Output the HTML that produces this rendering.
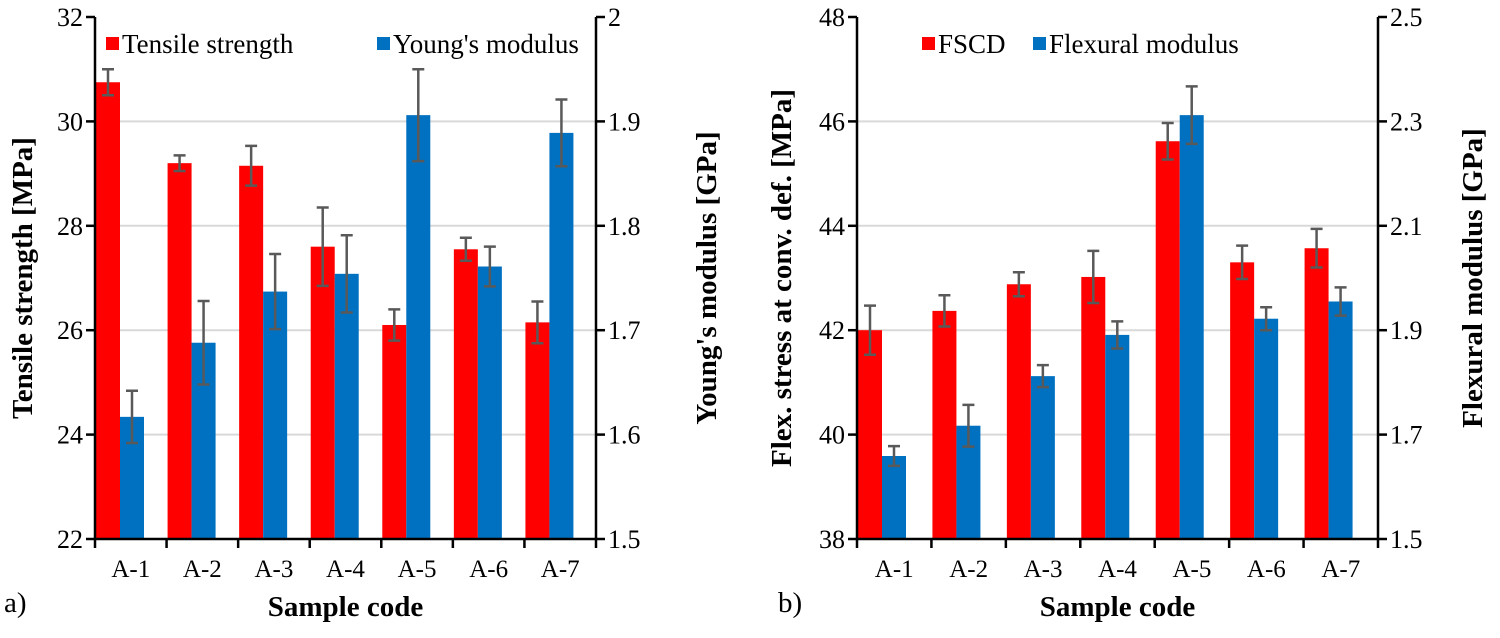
<!DOCTYPE html>
<html><head><meta charset="utf-8"><style>
body{margin:0;background:#fff;width:1500px;height:633px;overflow:hidden}
svg, svg text{font-family:"Liberation Serif","Noto Serif CJK SC","DejaVu Serif",serif}
</style></head><body>
<svg id="c" width="1500" height="633"></svg>
<script>
const categories=["A-1","A-2","A-3","A-4","A-5","A-6","A-7"];
const tensile=[30.75,29.2,29.15,27.6,26.1,27.55,26.15];
const tensileErr=[0.25,0.15,0.38,0.75,0.3,0.22,0.4];
const young=[1.617,1.688,1.737,1.754,1.906,1.761,1.889];
const youngErr=[0.025,0.04,0.036,0.037,0.044,0.019,0.032];
const fscd=[42.0,42.37,42.88,43.02,45.62,43.3,43.57];
const fscdErr=[0.47,0.3,0.23,0.5,0.35,0.32,0.37];
const flexMod=[1.659,1.717,1.812,1.891,2.312,1.922,1.955];
const flexModErr=[0.019,0.04,0.021,0.026,0.055,0.022,0.027];
const leftTicksA=["22","24","26","28","30","32"];
const rightTicksA=["1.5","1.6","1.7","1.8","1.9","2"];
const leftTicksB=["38","40","42","44","46","48"];
const rightTicksB=["1.5","1.7","1.9","2.1","2.3","2.5"];

const svg=document.getElementById('c');
const NS='http://www.w3.org/2000/svg';
function el(t,a,p){const e=document.createElementNS(NS,t);for(const k in a)e.setAttribute(k,a[k]);(p||svg).appendChild(e);return e;}

function chart(o){
  const g=el('g',{});
  
  
  const x0=o.x0,x1=o.x1,top=17,bot=539;
  const yL=v=>bot-(v-o.lmin)/(o.lmax-o.lmin)*(bot-top);
  const yR=v=>bot-(v-o.rmin)/(o.rmax-o.rmin)*(bot-top);
  const cw=(x1-x0)/categories.length;
  o.lt.forEach((t,i)=>{const y=yL(+t);
    if(i>0&&i<o.lt.length-1){const l=el('line',{x1:x0,x2:x1,y1:y,y2:y,stroke:'#d9d9d9','stroke-width':2},g);}
    el('line',{x1:x0-9,x2:x0,y1:y,y2:y,stroke:'#000','stroke-width':2.5},g);
    const tx=el('text',{x:x0-12,y:y+9,'text-anchor':'end','font-size':26},g);tx.textContent=t;
    
  });
  o.rt.forEach((t,i)=>{const y=yR(+t);
    el('line',{x1:x1,x2:x1+9,y1:y,y2:y,stroke:'#000','stroke-width':2.5},g);
    const tx=el('text',{x:x1+12,y:y+9,'font-size':26},g);tx.textContent=t;
    
  });
  function bar(x,y,err,yf,color,nm){
    const b=el('rect',{x:x,y:yf(y),width:24,height:bot-yf(y),fill:color},g);
    
    const cx=x+12,ya=yf(y+err),yb=yf(y-err);
    const eb=el('path',{d:`M${cx},${ya}V${yb}M${cx-6},${ya}H${cx+6}M${cx-6},${yb}H${cx+6}`,stroke:'#595959','stroke-width':2.5,fill:'none'},g);
    
  }
  categories.forEach((c,i)=>{
    const cx0=x0+i*cw;
    bar(cx0+1,o.a[i],o.ae[i],yL,'#ff0000','bar-'+o.an+'-'+c);
    bar(cx0+25,o.b[i],o.be[i],yR,'#0070c0','bar-'+o.bn+'-'+c);
    el('line',{x1:cx0,x2:cx0,y1:bot,y2:bot+9,stroke:'#000','stroke-width':2.5},g);
    const tx=el('text',{x:cx0+cw/2,y:bot+38,'text-anchor':'middle','font-size':25},g);tx.textContent=c;
    
  });
  el('line',{x1:x1,x2:x1,y1:bot,y2:bot+9,stroke:'#000','stroke-width':2.5},g);
  el('path',{d:`M${x0},${top}V${bot}H${x1}V${top}`,stroke:'#000','stroke-width':2.5,fill:'none'},g);
  o.leg.forEach(L=>{
    const r=el('rect',{x:L.x,y:37,width:13,height:13,fill:L.c},g);
    const t=el('text',{x:L.x+16,y:53,'font-size':27},g);t.textContent=L.t;
  });
  const xt=el('text',{x:(x0+x1)/2,y:616,'text-anchor':'middle','font-size':29,'font-weight':'bold'},g);xt.textContent='Sample code';
  
  const p=el('text',{x:o.px,y:612,'font-size':29},g);p.textContent=o.pl;
  
  const yt=el('text',{transform:`translate(${o.ltx},${(top+bot)/2}) rotate(-90)`,'text-anchor':'middle','font-size':29,'font-weight':'bold'},g);yt.textContent=o.ltitle;
  
  const rt=el('text',{transform:`translate(${o.rtx},${(top+bot)/2}) rotate(-90)`,'text-anchor':'middle','font-size':29,'font-weight':'bold'},g);rt.textContent=o.rtitle;
  
}
chart({name:'chart-a',x0:95,x1:596,lmin:22,lmax:32,rmin:1.5,rmax:2,lt:leftTicksA,rt:rightTicksA,
  a:tensile,ae:tensileErr,b:young,be:youngErr,an:'tensile',bn:'young',
  leg:[{x:106,c:'#ff0000',t:'Tensile strength'},{x:377,c:'#0070c0',t:"Young's modulus"}],
  px:4,pl:'a)',ltx:32,rtx:716,ltitle:'Tensile strength [MPa]',rtitle:"Young's modulus [GPa]"});
chart({name:'chart-b',x0:857,x1:1378,lmin:38,lmax:48,rmin:1.5,rmax:2.5,lt:leftTicksB,rt:rightTicksB,
  a:fscd,ae:fscdErr,b:flexMod,be:flexModErr,an:'fscd',bn:'flexural-modulus',
  leg:[{x:922,c:'#ff0000',t:'FSCD'},{x:1033,c:'#0070c0',t:'Flexural modulus'}],
  px:778,pl:'b)',ltx:791,rtx:1482,ltitle:'Flex. stress at conv. def. [MPa]',rtitle:'Flexural modulus [GPa]'});
</script>
</body></html>
